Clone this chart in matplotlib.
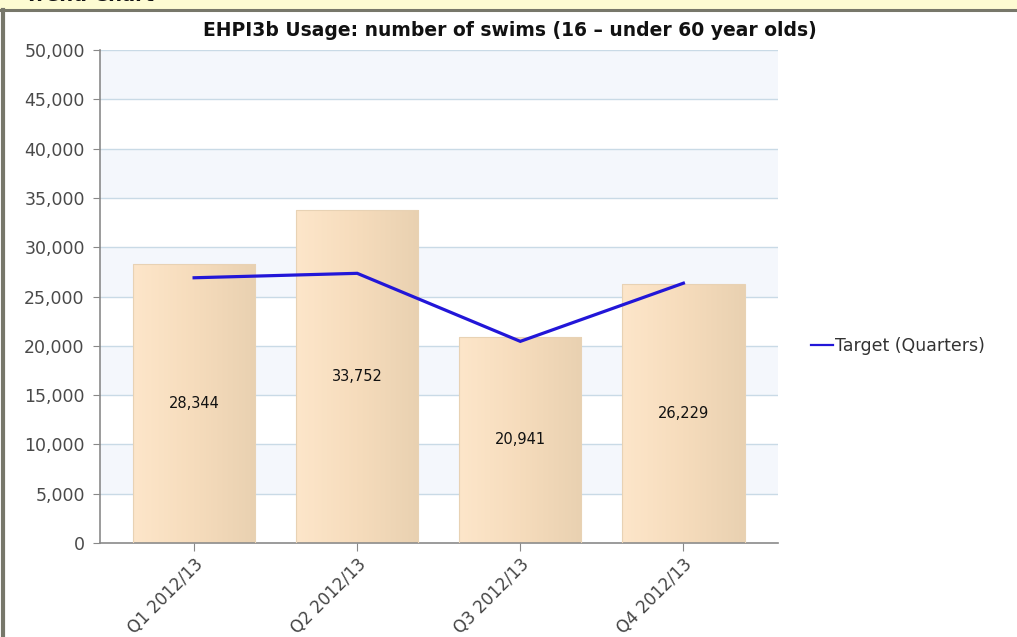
import matplotlib.pyplot as plt
import numpy as np
from matplotlib.colors import LinearSegmentedColormap
from matplotlib.patches import Rectangle

quarters = ["Q1 2012/13", "Q2 2012/13", "Q3 2012/13", "Q4 2012/13"]
swims = [28344, 33752, 20941, 26229]
target = [26900, 27350, 20450, 26350]
bar_labels = ["28,344", "33,752", "20,941", "26,229"]


def main():
    fig = plt.figure(figsize=(10.17, 6.37), dpi=100)
    fig.patch.set_facecolor("white")

    # cut-off report header band
    fig.patches.append(Rectangle((0, 1 - 9 / 637), 1, 9 / 637, transform=fig.transFigure,
                                 facecolor="#fdfbd2", edgecolor="none", zorder=0))
    fig.lines.append(plt.Line2D([0, 1], [1 - 10 / 637, 1 - 10 / 637], transform=fig.transFigure,
                                color="#77776a", linewidth=2.2))
    fig.lines.append(plt.Line2D([2.5 / 1017, 2.5 / 1017], [0, 1 - 10 / 637], transform=fig.transFigure,
                                color="#77776a", linewidth=3))
    fig.text(25 / 1017, 1 - 5 / 637, "Trend Chart", fontsize=14, fontweight="bold",
             color="#111111", ha="left", va="bottom")

    ax = fig.add_axes([100 / 1017, (637 - 543) / 637, 678 / 1017, 493 / 637])
    ax.set_facecolor("white")

    for lo in range(5000, 50000, 10000):
        ax.axhspan(lo, lo + 5000, facecolor="#f4f7fc", edgecolor="none", zorder=0)
    for y in range(5000, 50001, 5000):
        ax.axhline(y, color="#c9dae6", linewidth=1.0, zorder=1)

    cmap = LinearSegmentedColormap.from_list("bar", ["#fde6ca", "#f6dcbc", "#e9d1b1"])
    grad = np.linspace(0, 1, 256).reshape(1, -1)
    x = np.arange(len(quarters))
    bars = ax.bar(x, swims, width=0.75, facecolor="none", edgecolor="#e8d2b4",
                  linewidth=0.8, zorder=3)
    for b in bars:
        im = ax.imshow(grad, cmap=cmap, aspect="auto", zorder=2,
                       extent=[b.get_x(), b.get_x() + b.get_width(), 0, b.get_height()])
        im.set_clip_path(b)
    ax.set_xlim(-0.577, 3.58)
    ax.set_ylim(0, 50000)

    for xi, v, lab in zip(x, swims, bar_labels):
        ax.text(xi, v / 2, lab, ha="center", va="center", fontsize=10.5,
                color="#111111", zorder=5)

    ax.plot(x, target, color="#2216d8", linewidth=2.3, zorder=4,
            solid_joinstyle="miter", label="Target (Quarters)")

    leg = ax.legend(loc="center left", bbox_to_anchor=(1.025, 0.4), frameon=False,
                    handlelength=1.3, handletextpad=0.1, fontsize=12.5)
    for t in leg.get_texts():
        t.set_color("#333333")
    for h in leg.get_lines():
        h.set_linewidth(1.6)

    ax.set_yticks(range(0, 50001, 5000))
    ax.set_yticklabels([f"{v:,}" for v in range(0, 50001, 5000)], fontsize=12.5, color="#4a4a4a")
    ax.set_xticks(x)
    ax.set_xticklabels(quarters, rotation=45, ha="right", va="top", fontsize=12,
                       color="#444444", rotation_mode="anchor")
    ax.tick_params(axis="y", length=5, color="#888888", pad=6)
    ax.tick_params(axis="x", length=6, color="#888888", pad=3)

    for s in ["top", "right"]:
        ax.spines[s].set_visible(False)
    ax.spines["left"].set_color("#8a8a8a")
    ax.spines["bottom"].set_color("#8a8a8a")
    ax.spines["left"].set_linewidth(1.2)
    ax.spines["bottom"].set_linewidth(1.2)

    fig.text(510 / 1017, 1 - 30 / 637, "EHPI3b Usage: number of swims (16 \u2013 under 60 year olds)",
             ha="center", va="center", fontsize=13.5, fontweight="bold", color="#111111")

    fig.savefig("out.png", dpi=100)
    plt.close(fig)


if __name__ == "__main__":
    main()
